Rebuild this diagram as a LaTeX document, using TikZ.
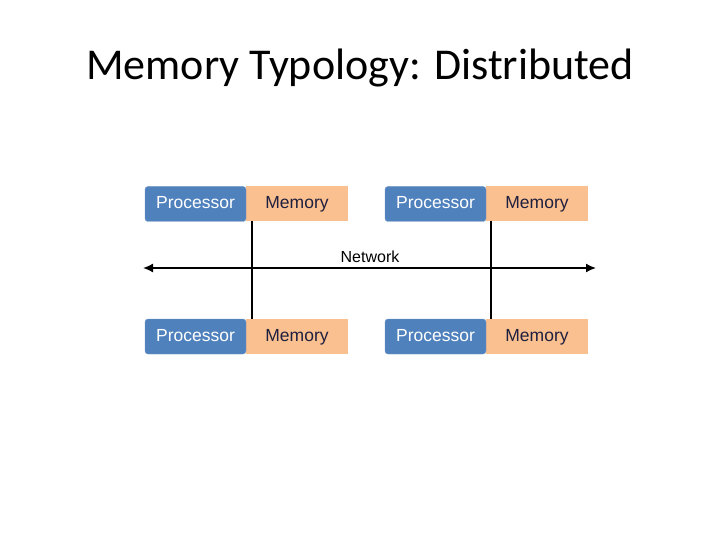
\documentclass[tikz,border=0pt]{standalone}
\usepackage{fontspec}
\setmainfont{Liberation Sans}
\newfontfamily\titlefont{Carlito}
\usetikzlibrary{arrows.meta}
\definecolor{procblue}{HTML}{4F81BD}
\definecolor{memorange}{HTML}{FAC090}
\definecolor{memtext}{HTML}{1F1F3F}
\begin{document}
\begin{tikzpicture}[x=1pt,y=-1pt,
  box/.style={minimum width=101pt,minimum height=35pt,inner sep=0pt,text height=12pt,text depth=3pt,font=\fontsize{17.5}{20}\selectfont},
  proc/.style={box,draw=procblue!80!white,fill=procblue,rounded corners=3pt,text=white},
  mem/.style={box,fill=memorange,minimum width=102pt,text=memtext},
  wire/.style={line width=1.6pt}]
\useasboundingbox (0,0) rectangle (720,540);
\fill[white] (0,0) rectangle (720,540);
\node[font=\titlefont\fontsize{44}{52}\selectfont] (title) at (360,68) {Memory Typology: Distributed};
\node[mem] (m1) at (297,204) {Memory};
\node[proc] (p1) at (195.5,204) {Processor};
\node[mem] (m2) at (537,204) {Memory};
\node[proc] (p2) at (435.5,204) {Processor};
\node[mem] (m3) at (297,336.5) {Memory};
\node[proc] (p3) at (195.5,336.5) {Processor};
\node[mem] (m4) at (537,336.5) {Memory};
\node[proc] (p4) at (435.5,336.5) {Processor};
\coordinate (L) at (143,268);
\coordinate (R) at (596,268);
\draw[wire,{Latex[length=10pt,width=9pt]}-{Latex[length=10pt,width=9pt]}] (L) -- (R);
\draw[wire] (252,221.5) -- (252,319);
\draw[wire] (491,221.5) -- (491,319);
\node[font=\fontsize{16}{18}\selectfont] (net) at (370,257) {Network};
\end{tikzpicture}
\end{document}
